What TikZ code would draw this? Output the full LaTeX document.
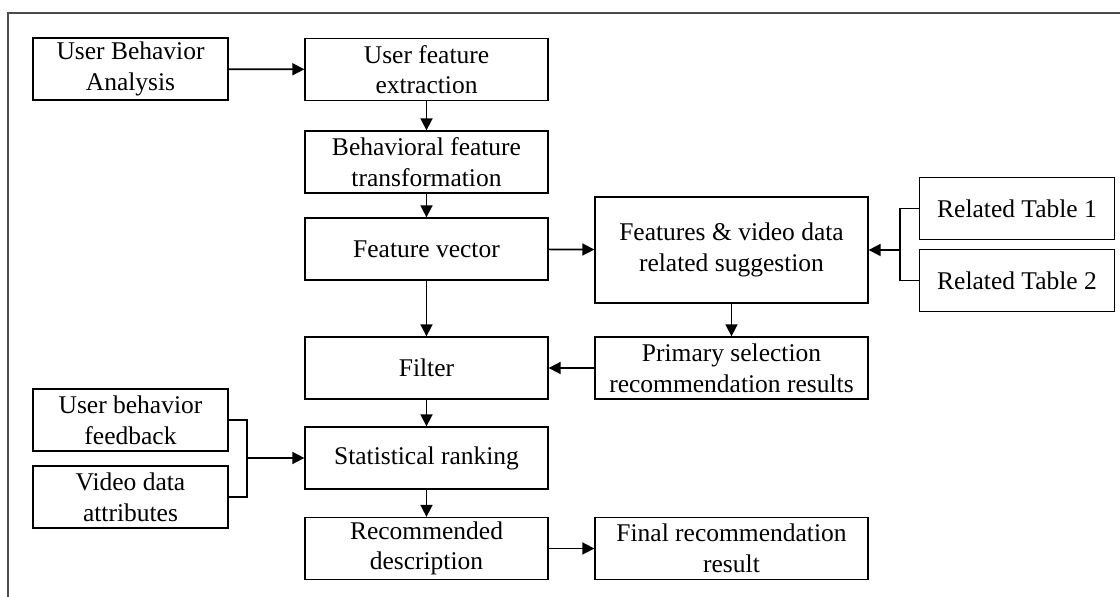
\documentclass[tikz,border=0pt]{standalone}
\usepackage{fontspec}
\setmainfont{Liberation Serif}
\usepackage{tikz}
\usetikzlibrary{arrows.meta}

\begin{document}
\begin{tikzpicture}[x=0.5pt, y=-0.5pt, line cap=butt, line join=miter,
    box/.style={draw, line width=0.65pt, inner sep=0pt, align=center,
        minimum height=31pt, font=\fontsize{12.75}{15.3}\selectfont},
    narrowbox/.style={box, minimum width=97.5pt},
    midbox/.style={box, minimum width=121.5pt},
    widebox/.style={box, minimum width=136.5pt},
    flow/.style={line width=0.85pt, -{Triangle[length=6pt, width=6pt]}},
    branch/.style={line width=0.85pt}]

    \useasboundingbox (0,0) rectangle (1120,597);
    \draw[line width=1pt, black!70] (1120,13) -- (8,13) -- (8,597);

    % left column
    \node[narrowbox] (analysis) at (130.5,69) {User Behavior\\Analysis};
    \node[narrowbox] (feedback) at (130.5,420) {User behavior\\feedback};
    \node[narrowbox] (attrs) at (130.5,497) {Video data\\attributes};

    % middle column
    \node[midbox] (extract) at (426.5,69.5) {User feature\\extraction};
    \node[midbox] (transform) at (426.5,162) {Behavioral feature\\transformation};
    \node[midbox] (vector) at (426.5,249) {Feature vector};
    \node[midbox] (filter) at (426.5,368) {Filter};
    \node[midbox] (ranking) at (426.5,458) {Statistical ranking};
    \node[midbox] (describe) at (426.5,548.5) {Recommended\\description};

    % right columns
    \node[widebox, minimum height=53pt] (suggest) at (731.5,250) {Features \& video data\\related suggestion};
    \node[widebox] (primary) at (731.5,368) {Primary selection\\recommendation results};
    \node[widebox] (final) at (731.5,548.5) {Final recommendation\\result};
    \node[narrowbox] (table1) at (1017,208.5) {Related Table 1};
    \node[narrowbox] (table2) at (1017,280.5) {Related Table 2};

    \coordinate (tjoin) at (900,250);
    \coordinate (ljoin) at (247,458);

    % connectors
    \draw[flow] (analysis) -- (extract);
    \draw[flow] (extract) -- (transform);
    \draw[flow] (transform) -- (vector);
    \draw[flow] (vector) -- (filter);
    \draw[flow] (vector) -- (suggest);
    \draw[flow] (suggest) -- (primary);
    \draw[flow] (primary) -- (filter);
    \draw[flow] (filter) -- (ranking);
    \draw[flow] (ranking) -- (describe);
    \draw[flow] (describe) -- (final);

    \draw[branch] (table1.west) -| (tjoin) |- (table2.west);
    \draw[flow] (tjoin) -- (suggest.east);
    \draw[branch] (feedback.east) -| (ljoin) |- (attrs.east);
    \draw[flow] (ljoin) -- (ranking.west);

\end{tikzpicture}
\end{document}
